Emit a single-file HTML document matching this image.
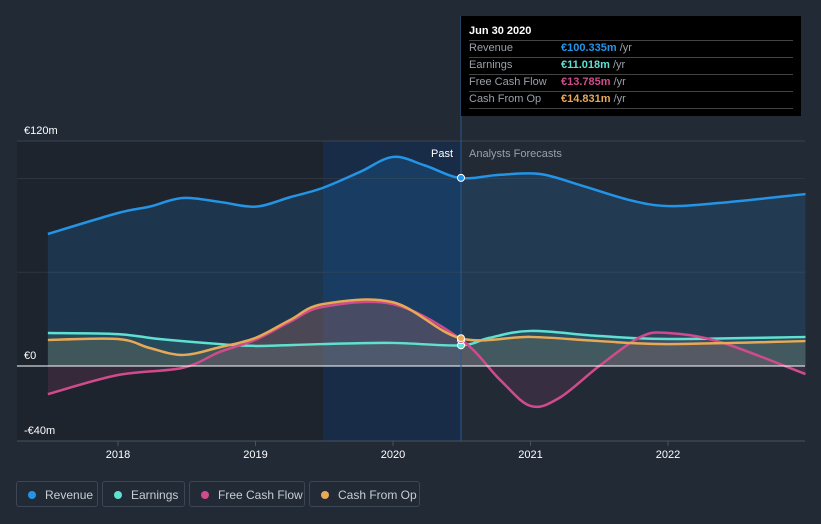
<!DOCTYPE html>
<html><head><meta charset="utf-8"><style>
body{margin:0;background:#222a36;font-family:"Liberation Sans",sans-serif;}
svg{display:block}
.leg{position:absolute;top:481px;height:26px;border:1px solid #3d4654;border-radius:3px;color:#c9ccd2;font-size:12px;line-height:26px;box-sizing:border-box;padding-left:28px}
.leg i{position:absolute;left:11px;top:9px;width:8px;height:8px;border-radius:50%}
</style></head><body>
<div style="position:relative;width:821px;height:524px;overflow:hidden">
<svg id="c" width="821" height="524"></svg>
<div class="leg" style="left:16px;width:82px"><i style="background:#2394e6"></i>Revenue</div>
<div class="leg" style="left:102px;width:83px"><i style="background:#5fe0d0"></i>Earnings</div>
<div class="leg" style="left:189px;width:116px"><i style="background:#d04b8d"></i>Free Cash Flow</div>
<div class="leg" style="left:309px;width:111px"><i style="background:#e8a956"></i>Cash From Op</div>
<div style="position:absolute;left:461px;top:16px;width:340px;height:100px;background:#000;font-size:11px;color:#9aa0a8">
<div style="position:absolute;left:8px;top:9px;color:#fff;font-weight:bold;font-size:11px">Jun 30 2020</div>
<div style="position:absolute;left:8px;right:8px;top:24px;border-top:1px solid #444"></div>
<div style="position:absolute;left:8px;top:26px">Revenue</div><div style="position:absolute;left:100px;top:26px"><b style="color:#2394e6">€100.335m</b> /yr</div>
<div style="position:absolute;left:8px;right:8px;top:41px;border-top:1px solid #444"></div>
<div style="position:absolute;left:8px;top:43px">Earnings</div><div style="position:absolute;left:100px;top:43px"><b style="color:#5fe0d0">€11.018m</b> /yr</div>
<div style="position:absolute;left:8px;right:8px;top:58px;border-top:1px solid #444"></div>
<div style="position:absolute;left:8px;top:60px">Free Cash Flow</div><div style="position:absolute;left:100px;top:60px"><b style="color:#d04b8d">€13.785m</b> /yr</div>
<div style="position:absolute;left:8px;right:8px;top:75px;border-top:1px solid #444"></div>
<div style="position:absolute;left:8px;top:77px">Cash From Op</div><div style="position:absolute;left:100px;top:77px"><b style="color:#e8a956">€14.831m</b> /yr</div>
<div style="position:absolute;left:8px;right:8px;top:92px;border-top:1px solid #444"></div>
</div>
</div>
<script>
const revT=[2017.49,2018,2018.23,2018.47,2018.74,2019,2019.25,2019.49,2019.76,2020,2020.23,2020.49,2020.78,2021.07,2021.36,2021.72,2022,2022.38,2023];
const revV=[70.4,81.6,85,89.6,87.5,85,90,95,103.5,111.5,107,100.3,102,102.4,96.5,88.5,85.3,87,91.7];
const earT=[2017.49,2018,2018.3,2018.74,2019,2019.49,2020,2020.49,2020.7,2021,2021.5,2022,2023];
const earV=[17.6,17,14.4,11.7,10.7,11.7,12.3,11,15,18.7,16,14.4,15.5];
const fcfT=[2017.49,2018,2018.47,2018.74,2019,2019.25,2019.49,2020,2020.49,2020.78,2021,2021.21,2021.5,2021.8,2022,2022.38,2023];
const fcfV=[-15,-4.8,-1,7.5,14,23.5,31.5,33,14.4,-7.5,-21.3,-17,0,15.5,17.6,12.8,-4.3];
const cfoT=[2017.49,2018,2018.23,2018.47,2018.74,2019,2019.25,2019.49,2020,2020.49,2021,2021.5,2022,2023];
const cfoV=[13.9,14.4,9.6,5.9,10,15,24.5,33,34,14.8,15.5,13.3,11.7,13.3];
const yTicks=[120,0,-40];const yLabels=["€120m","€0","-€40m"];
const gridV=[100,50];
const xTicks=[2018,2019,2020,2021,2022];
const X=t=>118+(t-2018)*137.5, Y=v=>366-v*1.875;
const svg=document.getElementById('c');const NS='http://www.w3.org/2000/svg';
function el(n,a){const e=document.createElementNS(NS,n);for(const k in a)e.setAttribute(k,a[k]);svg.appendChild(e);return e;}
function path(T,V){const p=T.map((t,i)=>[X(t),Y(V[i])]);let d='M'+p[0];for(let i=0;i<p.length-1;i++){const p0=p[i-1]||p[i],p1=p[i],p2=p[i+1],p3=p[i+2]||p2;d+=' C'+(p1[0]+(p2[0]-p0[0])/6)+','+(p1[1]+(p2[1]-p0[1])/6)+' '+(p2[0]-(p3[0]-p1[0])/6)+','+(p2[1]-(p3[1]-p1[1])/6)+' '+p2;}return d;}
let r;
r=el('rect',{x:17,y:141,width:306,height:300,fill:'#1e242e'});
r=el('rect',{x:323,y:141,width:138,height:300,fill:'#182c48'});
r=el('line',{x1:17,x2:805,y1:Y(120),y2:Y(120),stroke:'#3a4250'});
gridV.forEach(g=>{const l=el('line',{x1:17,x2:805,y1:Y(g),y2:Y(g),stroke:'#2e3542'});});
const S=[['revenue',revT,revV,'#2394e6',0.17],['earnings',earT,earV,'#5fe0d0',0.12],['free-cash-flow',fcfT,fcfV,'#d04b8d',0.13],['cash-from-op',cfoT,cfoV,'#e8a956',0.13]];
S.forEach(s=>{const d=path(s[1],s[2]);const a=el('path',{d:d+' L'+X(s[1][s[1].length-1])+','+Y(0)+' L'+X(s[1][0])+','+Y(0)+'Z',fill:s[3],'fill-opacity':s[4]});});
S.forEach(s=>{const l=el('path',{d:path(s[1],s[2]),fill:'none',stroke:s[3],'stroke-width':2.5});});
r=el('line',{x1:17,x2:805,y1:Y(0),y2:Y(0),stroke:'#fff','stroke-width':1});
r=el('line',{x1:461,x2:461,y1:16,y2:441,stroke:'#2a5a8a'});
S.forEach((s,i)=>{const v=[100.335,11.018,13.785,14.831][i];const c=el('circle',{cx:461,cy:Y(v),r:3.5,fill:s[3],stroke:'#fff','stroke-width':1});});
r=el('line',{x1:17,x2:805,y1:441,y2:441,stroke:'#4a5260'});
yTicks.forEach((v,i)=>{const t=el('text',{x:24,y:Y(v)-7,fill:'#fff','font-size':11});t.textContent=yLabels[i];});
xTicks.forEach(v=>{const l=el('line',{x1:X(v),x2:X(v),y1:441,y2:446,stroke:'#4a5260'});const t=el('text',{x:X(v),y:458,fill:'#fff','font-size':11,'text-anchor':'middle'});t.textContent=v;});
r=el('text',{x:453,y:157,fill:'#fff','font-size':11,'text-anchor':'end'});r.textContent='Past';
r=el('text',{x:469,y:157,fill:'#9aa0a8','font-size':11});r.textContent='Analysts Forecasts';
</script>
</body></html>
